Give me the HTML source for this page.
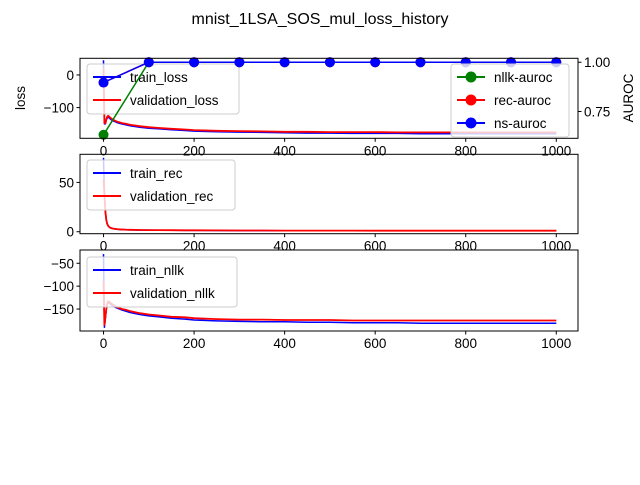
<!DOCTYPE html>
<html><head><meta charset="utf-8"><style>
body{margin:0;background:#fff;}
svg{font-family:"Liberation Sans","DejaVu Sans",sans-serif;}
</style></head><body>
<svg id="fig" width="640" height="480" viewBox="0 0 640 480">
<rect width="640" height="480" fill="#fff"/>
<text x="320" y="24" text-anchor="middle" font-size="16">mnist_1LSA_SOS_mul_loss_history</text>
<g id="g"></g>
</svg>
<script>
const epochs=[0,2,4,6,8,10,13,16,20,25,30,40,50,60,80,100,120,150,180,200,250,300,350,400,450,500,550,600,650,700,750,800,850,900,950,1000];
const trainLoss=[45,-150,-150,-138,-132,-129,-132,-136,-140,-143,-146,-150,-153,-156,-160,-163,-165,-168,-170,-172,-174,-175,-176,-177,-178,-178,-179,-179,-179,-180,-180,-180,-180,-180,-180,-180];
const valLoss=[20,-147,-148,-136,-128,-125,-128,-132,-136,-140,-143,-147,-150,-153,-157,-160,-162,-165,-167,-169,-171,-172,-173,-174,-174,-175,-175,-175,-176,-176,-176,-176,-176,-176,-176,-176];
const trainRec=[75,40,20,12,8,6,4.5,3.8,3.2,2.8,2.5,2.2,2,1.9,1.7,1.6,1.5,1.4,1.3,1.3,1.2,1.1,1.1,1,1,1,1,0.9,0.9,0.9,0.9,0.9,0.9,0.9,0.9,0.9];
const valRec=[53,38,20,12,8,6,4.6,3.9,3.3,2.9,2.6,2.3,2.1,2,1.8,1.7,1.6,1.5,1.4,1.4,1.3,1.2,1.2,1.1,1.1,1.1,1.1,1,1,1,1,1,1,1,1,1];
const trainNllk=[-30,-190,-170,-150,-140,-135,-137,-140,-143,-146,-148,-152,-155,-158,-162,-165,-167,-170,-172,-174,-176,-177,-178,-178,-179,-179,-180,-180,-180,-181,-181,-181,-181,-181,-181,-181];
const valNllk=[-90,-185,-168,-150,-138,-133,-134,-137,-140,-143,-146,-150,-152,-155,-159,-162,-164,-167,-168,-170,-172,-173,-173,-174,-174,-174,-175,-175,-175,-175,-175,-175,-175,-175,-175,-175];
const aurocEpochs=[0,100,200,300,400,500,600,700,800,900,1000];
const nllkAuroc=[0.632,1,1,1,1,1,1,1,1,1,1];
const recAuroc=[0.897,1,1,1,1,1,1,1,1,1,1];
const nsAuroc=[0.897,1,1,1,1,1,1,1,1,1,1];
const xTicks=[0,200,400,600,800,1000];

const NS='http://www.w3.org/2000/svg';
const G=document.getElementById('g');
function mk(tag,attrs,parent){const e=document.createElementNS(NS,tag);for(const k in attrs)e.setAttribute(k,attrs[k]);(parent||G).appendChild(e);return e;}
const L=80,R=578;
const xs=v=>L+(v+52)/1100*(R-L);
function yscale(top,bot,vmax,vmin){return v=>top+(vmax-v)/(vmax-vmin)*(bot-top);}
function fmt(v){return v<0?'\u2212'+Math.abs(v):String(v);}

function line(xsArr,ys,ysc,color,w,name){
  let d='';xsArr.forEach((x,i)=>{d+=(i?'L':'M')+xs(x).toFixed(1)+','+ysc(ys[i]).toFixed(1);});
  const p=mk('path',{d:d,fill:'none',stroke:color,'stroke-width':w,'stroke-linejoin':'round'});
  
  
  return p;
}
function axesFrame(top,bot,name){
  const r=mk('rect',{x:L,y:top,width:R-L,height:bot-top,fill:'none',stroke:'#000','stroke-width':1});
  
  
  xTicks.forEach(t=>{
    const x=xs(t);mk('line',{x1:x,x2:x,y1:bot,y2:bot+3.5,stroke:'#000'});
    const tx=mk('text',{x:x,y:bot+17,'text-anchor':'middle','font-size':13.5});tx.textContent=t;
    
    
  });
}
function yTicks(ticks,ysc){
  ticks.forEach(t=>{const y=ysc(t);mk('line',{x1:L-3.5,x2:L,y1:y,y2:y,stroke:'#000'});
    const tx=mk('text',{x:L-6,y:y+5,'text-anchor':'end','font-size':13.5});tx.textContent=fmt(t);
    
    });
}
function legend(x,y,w,entries,name,marker){
  const g=mk('g',{});
  
  
  mk('rect',{x:x,y:y,width:w,height:entries.length*23+4,rx:3,fill:'#fff','fill-opacity':0.8,stroke:'#ccc'},g);
  entries.forEach((e,i)=>{const yy=y+13+i*23;
    mk('line',{x1:x+6,x2:x+34,y1:yy,y2:yy,stroke:e[1],'stroke-width':2},g);
    if(marker)mk('circle',{cx:x+20,cy:yy,r:5.5,fill:e[1]},g);
    const t=mk('text',{x:x+43,y:yy+5,'font-size':13.5},g);t.textContent=e[0];
    
    });
}

// Top subplot
const T1=58.3,B1=138.3;
const y1=yscale(T1,B1,51,-194);
const ya=yscale(T1,B1,1.020,0.614);
line(epochs,trainLoss,y1,'blue',1.5,'train-loss-line');
line(epochs,valLoss,y1,'red',1.8,'validation-loss-line');
legend(87,64,152,[['train_loss','blue'],['validation_loss','red']],'loss-legend',false);
[[nllkAuroc,'green','nllk-auroc'],[recAuroc,'red','rec-auroc'],[nsAuroc,'blue','ns-auroc']].forEach(s=>{
  line(aurocEpochs,s[0],ya,s[1],1.5,s[2]+'-line');
  s[0].forEach((v,i)=>{const c=mk('circle',{cx:xs(aurocEpochs[i]),cy:ya(v),r:5,fill:s[1]});
    
    });
});
axesFrame(T1,B1,'loss-axes');
yTicks([0,-100],y1);
[1.00,0.75].forEach(t=>{const y=ya(t);mk('line',{x1:R,x2:R+3.5,y1:y,y2:y,stroke:'#000'});
  const tx=mk('text',{x:R+6,y:y+5,'font-size':13.5});tx.textContent=t.toFixed(2);
  
  });
let t=mk('text',{transform:'translate(25,98) rotate(-90)','text-anchor':'middle','font-size':13.5});t.textContent='loss';


t=mk('text',{transform:'translate(633,98) rotate(-90)','text-anchor':'middle','font-size':13.5});t.textContent='AUROC';


legend(451,64,118,[['nllk-auroc','green'],['rec-auroc','red'],['ns-auroc','blue']],'auroc-legend',true);

// Middle subplot
const T2=154.3,B2=233.7;
const y2=yscale(T2,B2,78.5,-2);
line(epochs,trainRec,y2,'blue',1.5,'train-rec-line');
line(epochs,valRec,y2,'red',1.8,'validation-rec-line');
axesFrame(T2,B2,'rec-axes');
yTicks([50,0],y2);
legend(87,160,148,[['train_rec','blue'],['validation_rec','red']],'rec-legend',false);

// Bottom subplot
const T3=250,B3=331;
const y3=yscale(T3,B3,-21,-198);
line(epochs,trainNllk,y3,'blue',1.5,'train-nllk-line');
line(epochs,valNllk,y3,'red',1.8,'validation-nllk-line');
axesFrame(T3,B3,'nllk-axes');
yTicks([-50,-100,-150],y3);
legend(87,257,150,[['train_nllk','blue'],['validation_nllk','red']],'nllk-legend',false);
</script>
</body></html>
